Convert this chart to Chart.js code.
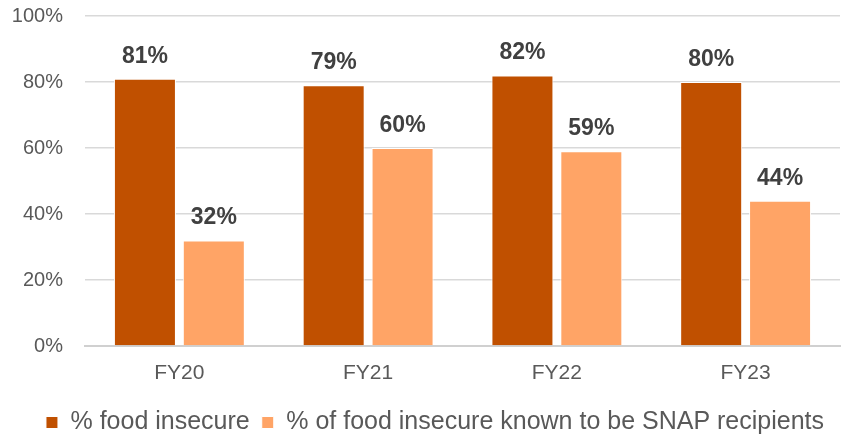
<!DOCTYPE html>
<html>
<head>
<meta charset="utf-8">
<script src="https://cdn.jsdelivr.net/npm/chart.js@4"></script>
<style>
  html, body { margin: 0; padding: 0; background: #fff; }
  #wrap { width: 846px; height: 434px; }
</style>
</head>
<body>
<div id="wrap"><canvas id="chart"></canvas></div>
<script>
const years = ['FY20', 'FY21', 'FY22', 'FY23']
const foodInsecure = [81, 79, 82, 80]
const snapKnown = [32, 60, 59, 44]
const seriesNames = ['% food insecure', '% of food insecure known to be SNAP recipients']

const FONT = '"Liberation Sans", Arial, sans-serif'

// simple value labels above each bar
const barLabels = {
  id: 'barLabels',
  afterDatasetsDraw(chart) {
    const { ctx } = chart
    ctx.save()
    ctx.font = 'bold 23px ' + FONT
    ctx.fillStyle = '#404040'
    ctx.textAlign = 'center'
    ctx.textBaseline = 'bottom'
    chart.data.datasets.forEach((ds, i) => {
      chart.getDatasetMeta(i).data.forEach((bar, j) => {
        ctx.fillText(ds.data[j] + '%', bar.x, bar.y - 11)
      })
    })
    ctx.restore()
  }
}

// the legend in the original sits a bit right of centre
const legendShift = {
  id: 'legendShift',
  beforeDraw(chart) {
    const legend = chart.legend
    if (!legend || legend._shifted) return
    legend.left += 15
    legend.right += 15
    legend.adjustHitBoxes()
    legend._shifted = true
  }
}

new Chart(document.getElementById('chart'), {
  type: 'bar',
  data: {
    labels: years,
    datasets: [
      {
        label: seriesNames[0],
        data: foodInsecure,
        backgroundColor: '#C05000',
        borderColor: '#ffffff',
        borderWidth: 1
      },
      {
        label: seriesNames[1],
        data: snapKnown,
        backgroundColor: '#FFA466',
        borderColor: '#ffffff',
        borderWidth: 1
      }
    ]
  },
  options: {
    responsive: true,
    maintainAspectRatio: false,
    animation: false,
    datasets: {
      bar: { categoryPercentage: 0.73, barPercentage: 0.9 }
    },
    layout: { padding: { top: 16, right: 6, bottom: -11, left: 0 } },
    scales: {
      x: {
        afterFit(scale) { scale.height = 52 },
        grid: { display: false, drawTicks: false },
        border: { color: '#d0d0d0', width: 2 },
        ticks: { color: '#595959', font: { family: FONT, size: 21 }, padding: 15 }
      },
      y: {
        min: 0,
        max: 100,
        afterFit(scale) {
          scale.width = 85
          scale.paddingTop = 0
          scale.paddingBottom = 0
        },
        grid: { color: '#d9d9d9', lineWidth: 1.5, drawTicks: false },
        border: { display: false },
        ticks: {
          stepSize: 20,
          color: '#595959',
          font: { family: FONT, size: 20 },
          padding: 22,
          callback: v => v + '%'
        }
      }
    },
    plugins: {
      legend: {
        position: 'bottom',
        labels: {
          boxWidth: 12,
          boxHeight: 12,
          padding: 12,
          color: '#595959',
          font: { family: FONT, size: 25 }
        }
      },
      tooltip: { enabled: false }
    }
  },
  plugins: [barLabels, legendShift]
})
</script>
</body>
</html>
